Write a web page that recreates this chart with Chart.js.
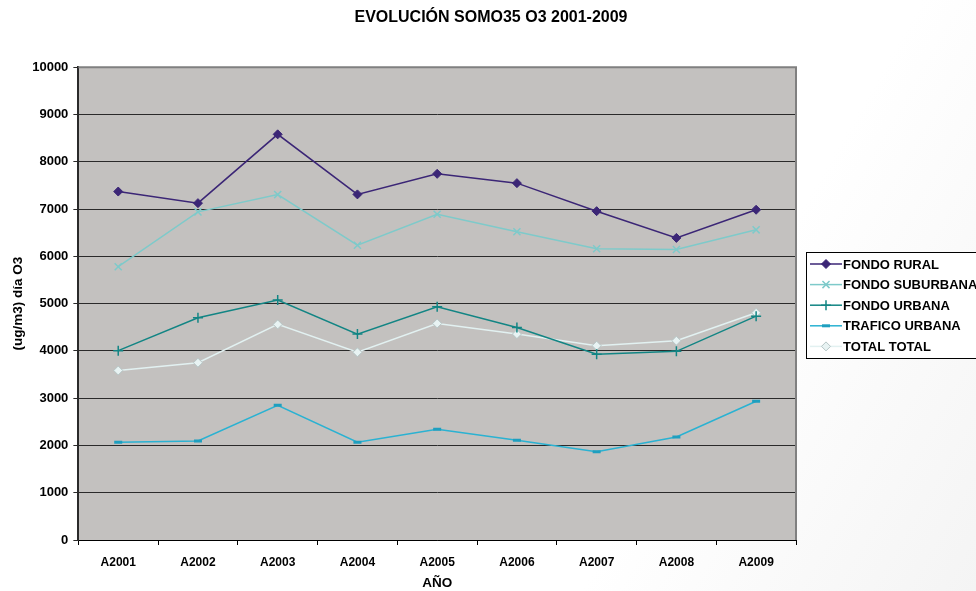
<!DOCTYPE html>
<html>
<head>
<meta charset="utf-8">
<script src="https://cdn.jsdelivr.net/npm/chart.js@4"></script>
<style>
  html, body { margin: 0; padding: 0; }
  body {
    width: 976px; height: 591px; overflow: hidden;
    background: linear-gradient(120deg, #ffffff 0%, #ffffff 70%, #f4f4f4 100%);
  }
  #wrap { width: 976px; height: 591px; }
</style>
</head>
<body>
<div id="wrap"><canvas id="chart"></canvas></div>
<script>
const years = ["A2001", "A2002", "A2003", "A2004", "A2005", "A2006", "A2007", "A2008", "A2009"];

const fondoRural = [7370, 7125, 8580, 7310, 7745, 7548, 6955, 6390, 6985];
const fondoSuburbana = [5780, 6940, 7305, 6235, 6890, 6520, 6160, 6145, 6560];
const fondoUrbana = [4005, 4700, 5075, 4355, 4935, 4495, 3930, 3990, 4735];
const traficoUrbana = [2065, 2095, 2850, 2070, 2340, 2110, 1865, 2180, 2935];
const totalTotal = [3585, 3750, 4560, 3970, 4580, 4355, 4110, 4215, 4805];

const yTicks = { min: 0, max: 10000, step: 1000 };

const FONT = "'Liberation Sans', Arial, sans-serif";

// gray plot area with gray border
const plotBackground = {
    id: "plotBackground",
    beforeDraw(chart) {
        const { ctx, chartArea: a } = chart;
        ctx.save();
        ctx.fillStyle = "#c3c1bf";
        ctx.fillRect(a.left, a.top, a.right - a.left, a.bottom - a.top);
        ctx.restore();
    },
    afterDatasetsDraw(chart) {
        const { ctx, chartArea: a } = chart;
        ctx.save();
        ctx.strokeStyle = "#808080";
        ctx.lineWidth = 2;
        ctx.beginPath();
        ctx.moveTo(a.left, a.top);
        ctx.lineTo(a.right, a.top);
        ctx.lineTo(a.right, a.bottom);
        ctx.stroke();
        ctx.restore();
    },
};

// Excel-like legend box on the right
const boxLegend = {
    id: "boxLegend",
    afterDraw(chart) {
        const { ctx } = chart;
        const x0 = chart.chartArea.right + 10;
        const y0 = 252;
        const rowH = 20.6;
        const n = chart.data.datasets.length;
        ctx.save();
        ctx.fillStyle = "#ffffff";
        ctx.fillRect(x0, y0, 200, rowH * n + 3);
        ctx.strokeStyle = "#000000";
        ctx.lineWidth = 1;
        ctx.strokeRect(x0 + 0.5, y0 + 0.5, 200, rowH * n + 3);
        chart.data.datasets.forEach((ds, i) => {
            const cy = y0 + 12 + i * rowH;
            ctx.strokeStyle = ds.borderColor;
            ctx.lineWidth = 1.5;
            ctx.beginPath();
            ctx.moveTo(x0 + 4, cy);
            ctx.lineTo(x0 + 36, cy);
            ctx.stroke();
            ctx.fillStyle = ds.pointBackgroundColor;
            ctx.strokeStyle = ds.pointBorderColor;
            ctx.lineWidth = ds.pointBorderWidth;
            Chart.helpers.drawPoint(ctx, {
                pointStyle: ds.pointStyle,
                radius: ds.pointRadius,
                borderWidth: ds.pointBorderWidth,
                rotation: 0,
            }, x0 + 20, cy);
            ctx.fillStyle = "#000000";
            ctx.font = "bold 13px " + FONT;
            ctx.textBaseline = "middle";
            ctx.fillText(ds.label, x0 + 37, cy + 1);
        });
        ctx.restore();
    },
};

function series(label, data, color, style, radius, fill, border, bw) {
    return {
        label: label,
        data: data,
        borderColor: color,
        borderWidth: 1.5,
        pointStyle: style,
        pointRadius: radius,
        pointHoverRadius: radius,
        pointBackgroundColor: fill,
        pointBorderColor: border,
        pointBorderWidth: bw,
        tension: 0,
        fill: false,
    };
}

new Chart(document.getElementById("chart"), {
    type: "line",
    data: {
        labels: years,
        datasets: [
            series("FONDO RURAL", fondoRural, "#3b2676", "rectRot", 4.5, "#3b2676", "#3b2676", 1),
            series("FONDO SUBURBANA", fondoSuburbana, "#7ecaca", "crossRot", 5, "#7ecaca", "#7ecaca", 1.5),
            series("FONDO URBANA", fondoUrbana, "#128584", "cross", 5, "#128584", "#128584", 1.5),
            series("TRAFICO URBANA", traficoUrbana, "#2ab2d2", "line", 4, "#1e9fbf", "#1e9fbf", 3),
            series("TOTAL TOTAL", totalTotal, "#e2f1f1", "rectRot", 4.5, "#e8f3f3", "#b6c6c6", 1),
        ],
    },
    options: {
        responsive: true,
        maintainAspectRatio: false,
        animation: false,
        layout: { padding: { top: 4, right: 0, left: 6, bottom: 0 } },
        plugins: {
            legend: { display: false },
            tooltip: { enabled: false },
            title: {
                display: true,
                text: "EVOLUCIÓN SOMO35 O3 2001-2009",
                color: "#000000",
                font: { family: FONT, size: 16, weight: "bold" },
                padding: { top: 4, bottom: 40 },
            },
        },
        scales: {
            x: {
                offset: true,
                grid: {
                    offset: true,
                    drawOnChartArea: false,
                    drawTicks: true,
                    tickLength: 5,
                    color: "#000000",
                },
                border: { color: "#000000", width: 1 },
                ticks: {
                    color: "#000000",
                    font: { family: FONT, size: 12, weight: "bold" },
                    padding: 10,
                },
                title: {
                    display: true,
                    text: "AÑO",
                    color: "#000000",
                    font: { family: FONT, size: 13.5, weight: "bold" },
                    padding: { top: 0, bottom: 0 },
                },
                afterFit(scale) { scale.height = 51; },
            },
            y: {
                min: yTicks.min,
                max: yTicks.max,
                grid: {
                    color: "#2a2a2a",
                    lineWidth: 1,
                    tickLength: 5,
                },
                border: { color: "#2a2a2a", width: 2 },
                ticks: {
                    stepSize: yTicks.step,
                    color: "#000000",
                    font: { family: FONT, size: 13, weight: "bold" },
                    padding: 5,
                    callback: (v) => String(v),
                },
                title: {
                    display: true,
                    text: "(ug/m3) día O3",
                    color: "#000000",
                    font: { family: FONT, size: 13.5, weight: "bold" },
                    padding: { top: 4, bottom: 1 },
                },
            },
            // empty axis that keeps room for the legend box on the right
            legendSpace: {
                type: "linear",
                position: "right",
                display: true,
                grid: { display: false },
                ticks: { display: false },
                border: { display: false },
                afterFit(scale) { scale.width = 180; },
            },
        },
    },
    plugins: [plotBackground, boxLegend],
});
</script>
</body>
</html>
